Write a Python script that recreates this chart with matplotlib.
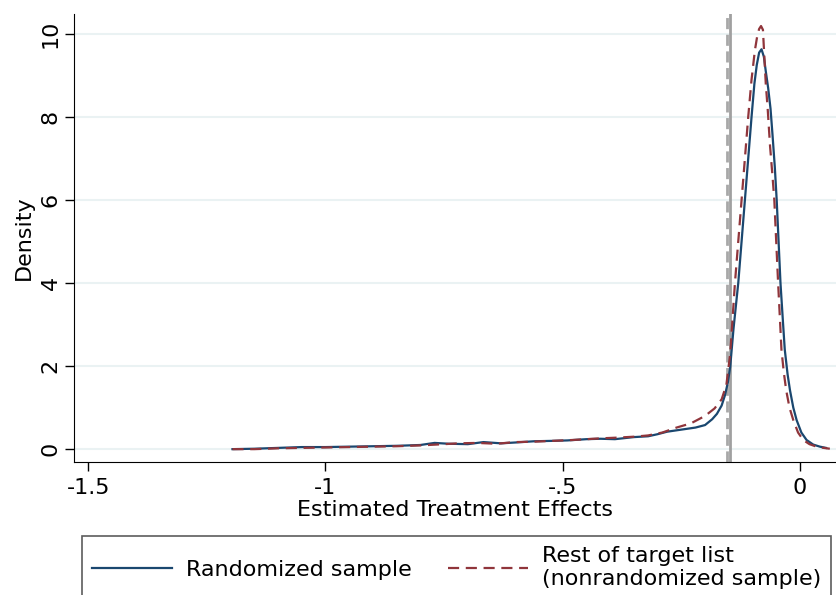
import matplotlib
matplotlib.use("Agg")
import matplotlib.pyplot as plt

plt.rcParams['font.family'] = ['DejaVu Sans']

# kernel density of estimated effects, randomized sample
blue_x = [-1.196, -1.15, -1.10, -1.05, -1.00, -0.95, -0.90, -0.85, -0.80, -0.77,
          -0.74, -0.70, -0.667, -0.63, -0.60, -0.56, -0.52, -0.49, -0.45, -0.42,
          -0.39, -0.35, -0.32, -0.30, -0.28, -0.25, -0.22, -0.20, -0.185, -0.175,
          -0.165, -0.158, -0.152, -0.147, -0.140, -0.130, -0.123, -0.116, -0.109, -0.102,
          -0.096, -0.091, -0.086, -0.081, -0.076, -0.072, -0.067, -0.062, -0.058, -0.053,
          -0.049, -0.045, -0.041, -0.036, -0.032, -0.026, -0.021, -0.014, -0.007, 0.003,
          0.014, 0.028, 0.042, 0.055]
blue_y = [0.00, 0.01, 0.03, 0.05, 0.05, 0.06, 0.07, 0.08, 0.10, 0.15,
          0.13, 0.12, 0.17, 0.14, 0.16, 0.19, 0.20, 0.21, 0.24, 0.25,
          0.24, 0.29, 0.31, 0.36, 0.42, 0.47, 0.52, 0.58, 0.72, 0.85,
          1.05, 1.30, 1.60, 1.98, 2.90, 4.00, 5.00, 6.00, 7.00, 8.00,
          8.80, 9.25, 9.55, 9.63, 9.45, 9.10, 8.70, 8.20, 7.60, 6.80,
          6.00, 5.00, 4.00, 3.10, 2.40, 1.80, 1.42, 1.00, 0.70, 0.40,
          0.22, 0.11, 0.06, 0.03]

# rest of the target list (nonrandomized)
red_x = [-1.196, -1.15, -1.10, -1.05, -1.00, -0.95, -0.90, -0.85, -0.80, -0.75,
         -0.72, -0.68, -0.64, -0.60, -0.56, -0.52, -0.48, -0.45, -0.42, -0.38,
         -0.35, -0.32, -0.29, -0.26, -0.23, -0.20, -0.18, -0.165, -0.155, -0.147,
         -0.137, -0.130, -0.123, -0.116, -0.109, -0.102, -0.095, -0.090, -0.086, -0.082,
         -0.078, -0.075, -0.072, -0.068, -0.063, -0.058, -0.054, -0.050, -0.046, -0.042,
         -0.039, -0.034, -0.029, -0.022, -0.014, -0.004, 0.007, 0.020, 0.035, 0.050,
         0.063]
red_y = [0.00, 0.00, 0.02, 0.03, 0.04, 0.05, 0.06, 0.07, 0.09, 0.12,
         0.14, 0.15, 0.13, 0.17, 0.18, 0.20, 0.22, 0.24, 0.26, 0.28,
         0.30, 0.33, 0.40, 0.52, 0.62, 0.80, 0.98, 1.20, 1.55, 2.30,
         4.00, 5.00, 6.00, 7.00, 8.00, 8.90, 9.60, 9.95, 10.12, 10.19,
         10.10, 9.45, 8.80, 8.20, 7.30, 6.60, 6.00, 5.00, 4.00, 3.10,
         2.40, 1.85, 1.42, 1.00, 0.70, 0.40, 0.22, 0.12, 0.06, 0.03,
         0.01]

vline_dashed = -0.154
vline_solid = -0.147

xticks = [-1.5, -1, -0.5, 0]
xticklabels = ["-1.5", "-1", "-.5", "0"]
yticks = [0, 2, 4, 6, 8, 10]

navy = "#1a476f"
maroon = "#90353b"
fs = 16

fig = plt.figure(figsize=(8.36, 5.95), dpi=100)
ax = fig.add_axes([0.0885, 0.2235, 0.9115, 0.753])

for t in yticks:
    ax.axhline(t, color="#eaf2f3", lw=1.5, zorder=0)

ax.axvline(vline_dashed, color="#a8a8a8", lw=2, ls=(0, (4, 2)), zorder=1)
ax.axvline(vline_solid, color="#a0a0a0", lw=2, zorder=1)

ax.plot(blue_x, blue_y, color=navy, lw=1.6, label="Randomized sample", zorder=3)
ax.plot(red_x, red_y, color=maroon, lw=1.6, ls=(0, (5, 3)),
        label="Rest of target list\n(nonrandomized sample)", zorder=3)

ax.set_xlim(-1.53, 0.076)
ax.set_ylim(-0.31, 10.48)
ax.set_xticks(xticks)
ax.set_xticklabels(xticklabels)
ax.set_yticks(yticks)
ax.set_yticklabels([str(t) for t in yticks], rotation=90, va="center")
ax.tick_params(axis="both", direction="out", length=6.5, width=1, pad=3,
               labelsize=fs, color="black")
ax.tick_params(axis="x", pad=5)

for s in ["top", "right"]:
    ax.spines[s].set_visible(False)

ax.set_xlabel("Estimated Treatment Effects", fontsize=fs, labelpad=1.5)
ax.set_ylabel("Density", fontsize=fs, labelpad=5)

leg = fig.legend(loc="upper left", bbox_to_anchor=(82 / 836, 1 - 536 / 595),
                 borderaxespad=0, ncol=2, fontsize=fs, frameon=True, fancybox=False,
                 handlelength=3.6, handletextpad=0.64, columnspacing=1.6,
                 borderpad=0.45)
leg.get_frame().set_edgecolor("#333333")
leg.get_frame().set_linewidth(1.2)

fig.savefig("out.png", dpi=100)
